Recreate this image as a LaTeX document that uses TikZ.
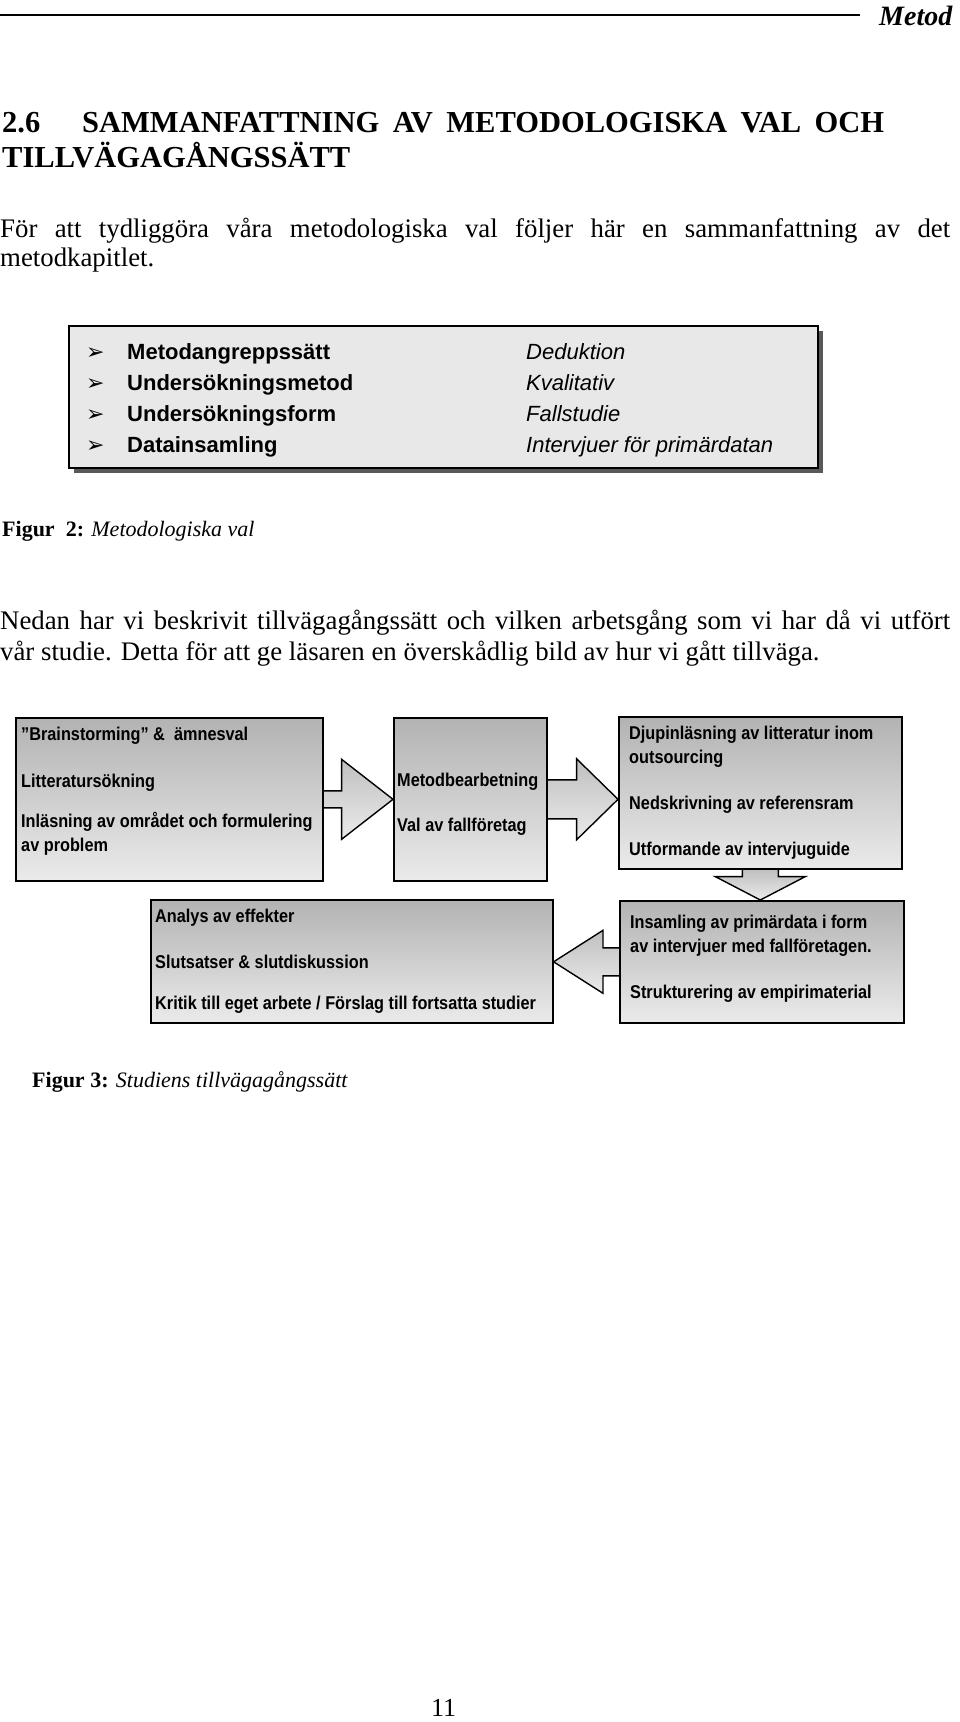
\documentclass[tikz,border=0pt]{standalone}
\usepackage{fontspec}
\setmainfont{Liberation Serif}
\newfontfamily\boxfont{Liberation Sans}[FakeStretch=0.88]
\newfontfamily\valfont{Liberation Sans}
\newfontfamily\dingfont{DejaVu Sans}
\usetikzlibrary{shadows,backgrounds}

\begin{document}
\begin{tikzpicture}[x=1pt,y=-1pt,
  heading/.style={anchor=base west,inner sep=0pt,font=\bfseries\fontsize{30.5}{34}\selectfont},
  brodtext/.style={anchor=base west,inner sep=0pt,font=\fontsize{26.8}{30}\selectfont},
  caption/.style={anchor=base west,inner sep=0pt,font=\fontsize{22}{26}\selectfont},
  valbox/.style={draw,line width=2.2pt,fill=black!9,anchor=north west,inner sep=0pt,
    drop shadow={shadow xshift=5pt,shadow yshift=-5pt,fill=black!65,opacity=1}},
  pil/.style={anchor=base west,inner sep=0pt,font=\dingfont\fontsize{22}{26}\selectfont},
  valterm/.style={anchor=base west,inner sep=0pt,font=\valfont\bfseries\fontsize{22}{26}\selectfont},
  valsvar/.style={anchor=base west,inner sep=0pt,font=\valfont\itshape\fontsize{22}{26}\selectfont},
  flowbox/.style={draw,line width=1.6pt,top color=black!30,bottom color=black!8,anchor=north west,inner sep=0pt},
  flowtext/.style={anchor=base west,inner sep=0pt,font=\boxfont\bfseries\fontsize{18.5}{22}\selectfont},
  blockarrow/.style={draw,line width=1.4pt,line join=miter,top color=black!25,bottom color=black!8}]
  \useasboundingbox (0,0) rectangle (960,1722);

  % sidhuvud
  \draw[line width=1.5pt] (0,15) -- (860,15);
  \node[anchor=base west,inner sep=0pt,font=\bfseries\itshape\fontsize{28}{32}\selectfont] (huvud) at (879,25) {Metod};

  % rubrik och inledning
  \node[heading] (rubriknr) at (2,132) {2.6};
  \node[heading] (rubrik1) at (82,132) {\makebox[802pt][s]{SAMMANFATTNING AV METODOLOGISKA VAL OCH}};
  \node[heading] (rubrik2) at (2,167) {TILLVÄGAGÅNGSSÄTT};
  \node[brodtext] (inledning1) at (0,237) {\makebox[950pt][s]{För att tydliggöra våra metodologiska val följer här en sammanfattning av det}};
  \node[brodtext] (inledning2) at (0,266) {metodkapitlet.};

  % figur 2
  \node[valbox,minimum width=749pt,minimum height=142pt] (val) at (68,325) {};
  \node[pil] (pil1) at (86,359) {➢};
  \node[pil] (pil2) at (86,390) {➢};
  \node[pil] (pil3) at (86,421) {➢};
  \node[pil] (pil4) at (86,452) {➢};
  \node[valterm] (term1) at (127,359) {Metodangreppssätt};
  \node[valterm] (term2) at (127,390) {Undersökningsmetod};
  \node[valterm] (term3) at (127,421) {Undersökningsform};
  \node[valterm] (term4) at (127,452) {Datainsamling};
  \node[valsvar] (svar1) at (526,359) {Deduktion};
  \node[valsvar] (svar2) at (526,390) {Kvalitativ};
  \node[valsvar] (svar3) at (526,421) {Fallstudie};
  \node[valsvar] (svar4) at (526,452) {Intervjuer för primärdatan};
  \node[caption] (figur2) at (2,536) {\textbf{Figur\ \ 2:} \textit{Metodologiska val}};

  \node[brodtext] (nedan1) at (0,629) {\makebox[950pt][s]{Nedan har vi beskrivit tillvägagångssätt och vilken arbetsgång som vi har då vi utfört}};
  \node[brodtext] (nedan2) at (0,660) {vår studie. Detta för att ge läsaren en överskådlig bild av hur vi gått tillväga.};

  % figur 3
  \node[flowbox,minimum width=307pt,minimum height=163pt] (start) at (15,717) {};
  \node[flowtext] (start1) at (21,740) {”Brainstorming” \&\ \ ämnesval};
  \node[flowtext] (start2) at (21,787) {Litteratursökning};
  \node[flowtext] (start3) at (21,827) {Inläsning av området och formulering};
  \node[flowtext] (start4) at (21,851) {av problem};

  \node[flowbox,minimum width=153pt,minimum height=163pt] (metod) at (393,717) {};
  \node[flowtext] (metod1) at (397,786) {Metodbearbetning};
  \node[flowtext] (metod2) at (397,831) {Val av fallföretag};

  \node[flowbox,minimum width=283pt,minimum height=152pt] (teori) at (618,716) {};
  \node[flowtext] (teori1) at (629,739) {Djupinläsning av litteratur inom};
  \node[flowtext] (teori2) at (629,763) {outsourcing};
  \node[flowtext] (teori3) at (629,809) {Nedskrivning av referensram};
  \node[flowtext] (teori4) at (629,855) {Utformande av intervjuguide};

  \node[flowbox,minimum width=284pt,minimum height=122pt] (empiri) at (619,900) {};
  \node[flowtext] (empiri1) at (630,928) {Insamling av primärdata i form};
  \node[flowtext] (empiri2) at (630,952) {av intervjuer med fallföretagen.};
  \node[flowtext] (empiri3) at (630,998) {Strukturering av empirimaterial};

  \node[flowbox,minimum width=402pt,minimum height=123pt] (analys) at (150,899) {};
  \node[flowtext] (analys1) at (155,922) {Analys av effekter};
  \node[flowtext] (analys2) at (155,968) {Slutsatser \& slutdiskussion};
  \node[flowtext] (analys3) at (155,1009) {Kritik till eget arbete / Förslag till fortsatta studier};

  \begin{scope}[on background layer]
    \path[blockarrow] ([yshift=8.5pt]start.east) -- ([xshift=18pt,yshift=8.5pt]start.east)
      -- ([xshift=18pt,yshift=40pt]start.east) -- (metod.west)
      -- ([xshift=18pt,yshift=-40pt]start.east) -- ([xshift=18pt,yshift=-8.5pt]start.east)
      -- ([yshift=-8.5pt]start.east);
    \path[blockarrow] ([yshift=19.5pt]metod.east) -- ([xshift=29pt,yshift=19.5pt]metod.east)
      -- ([xshift=29pt,yshift=40.5pt]metod.east) -- (metod.east -| teori.west)
      -- ([xshift=29pt,yshift=-40.5pt]metod.east) -- ([xshift=29pt,yshift=-19.5pt]metod.east)
      -- ([yshift=-19.5pt]metod.east);
    \path[blockarrow] ([xshift=-18pt]teori.south) -- ([xshift=-18pt,yshift=-7pt]teori.south)
      -- ([xshift=-45pt,yshift=-7pt]teori.south) -- (teori.south |- empiri.north)
      -- ([xshift=45pt,yshift=-7pt]teori.south) -- ([xshift=18pt,yshift=-7pt]teori.south)
      -- ([xshift=18pt]teori.south);
    \path[blockarrow] ([yshift=14pt]empiri.west) -- ([xshift=-16pt,yshift=14pt]empiri.west)
      -- ([xshift=-16pt,yshift=31.5pt]empiri.west) -- (empiri.west -| analys.east)
      -- ([xshift=-16pt,yshift=-31.5pt]empiri.west) -- ([xshift=-16pt,yshift=-14pt]empiri.west)
      -- ([yshift=-14pt]empiri.west);
  \end{scope}
  \node[caption] (figur3) at (32,1087) {\textbf{Figur 3:} \textit{Studiens tillvägagångssätt}};

  % sidnummer
  \node[anchor=base west,inner sep=0pt,font=\fontsize{26}{30}\selectfont] (sidnr) at (431,1716) {11};
\end{tikzpicture}
\end{document}
